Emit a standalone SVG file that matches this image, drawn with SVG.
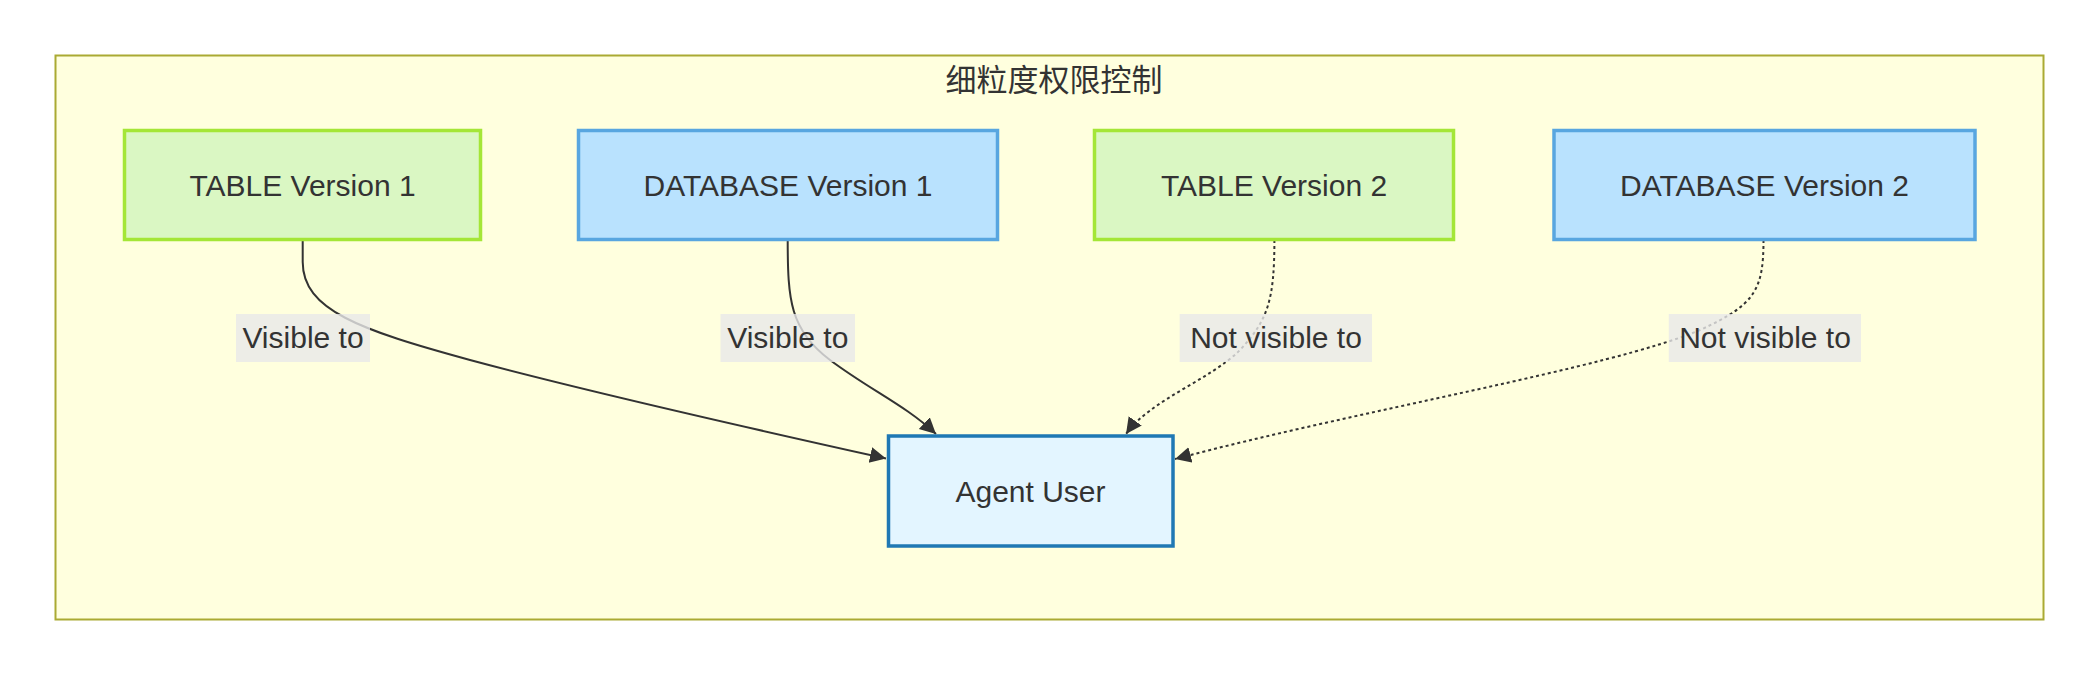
<svg xmlns="http://www.w3.org/2000/svg" width="2100" height="676" viewBox="0 0 2100 676">
<style>
.cluster{fill:#ffffde;stroke:#aaaa33;stroke-width:2}
.table{fill:#daf7c3;stroke:#a4e637;stroke-width:3.5}
.db{fill:#b9e2fe;stroke:#58a6e0;stroke-width:3.5}
.agent{fill:#e3f5ff;stroke:#1f78b4;stroke-width:3.5}
.t{font-family:"Liberation Sans",Arial,sans-serif;font-size:30px;fill:#333;text-anchor:middle}
.title{font-family:"Noto Sans CJK SC","Noto Sans",sans-serif;font-size:31px;fill:#333;text-anchor:middle}
.edge{fill:none;stroke:#333;stroke-width:2}
.dot{stroke-dasharray:3 3}
.lbg{fill:#e8e8e8;fill-opacity:0.8}
</style>
<defs>
<marker id="arrow" markerUnits="userSpaceOnUse" markerWidth="18" markerHeight="18" refX="16" refY="8" orient="auto">
<path d="M0,0 L16,8 L0,16 z" fill="#333"/>
</marker>
</defs>
<rect width="2100" height="676" fill="#ffffff"/>
<g id="cluster">
<rect class="cluster" x="55.5" y="55.5" width="1988" height="564"/>
<text class="title" x="1054" y="91">细粒度权限控制</text>
</g>
<g id="edges">
<path class="edge" d="M302.7,240 L302.7,262 C302.7,310 360,330 470,360 C600,395 780,435 886,458.5" marker-end="url(#arrow)"/>
<path class="edge" d="M787.7,240 C787.7,300 790,330 830,360 C870,390 905,405 936,434" marker-end="url(#arrow)"/>
<path class="edge dot" d="M1274.4,240 C1274.4,300 1268,320 1240,350 C1210,380 1150,400 1126,434" marker-end="url(#arrow)"/>
<path class="edge dot" d="M1763.5,240 C1763.5,290 1755,305 1700,330 C1610,368 1360,410 1175,459" marker-end="url(#arrow)"/>
</g>
<g id="edge-labels">
<rect class="lbg" x="236" y="314" width="134" height="48"/>
<text class="t" x="303" y="348">Visible to</text>
<rect class="lbg" x="720.5" y="314" width="134.5" height="48"/>
<text class="t" x="787.8" y="348">Visible to</text>
<rect class="lbg" x="1179.7" y="314" width="192.3" height="48"/>
<text class="t" x="1276" y="348">Not visible to</text>
<rect class="lbg" x="1668.8" y="314" width="192.2" height="48"/>
<text class="t" x="1765" y="348">Not visible to</text>
</g>
<g id="table1">
<rect class="table" x="124.5" y="130.5" width="356" height="109"/>
<text class="t" x="302.5" y="195.5">TABLE Version 1</text>
</g>
<g id="db1">
<rect class="db" x="578.5" y="130.5" width="419" height="109"/>
<text class="t" x="788" y="195.5">DATABASE Version 1</text>
</g>
<g id="table2">
<rect class="table" x="1094.5" y="130.5" width="359" height="109"/>
<text class="t" x="1274" y="195.5">TABLE Version 2</text>
</g>
<g id="db2">
<rect class="db" x="1554" y="130.5" width="421" height="109"/>
<text class="t" x="1764.5" y="195.5">DATABASE Version 2</text>
</g>
<g id="agent">
<rect class="agent" x="888.5" y="436" width="284.5" height="110"/>
<text class="t" x="1030.5" y="501.5">Agent User</text>
</g>
</svg>
